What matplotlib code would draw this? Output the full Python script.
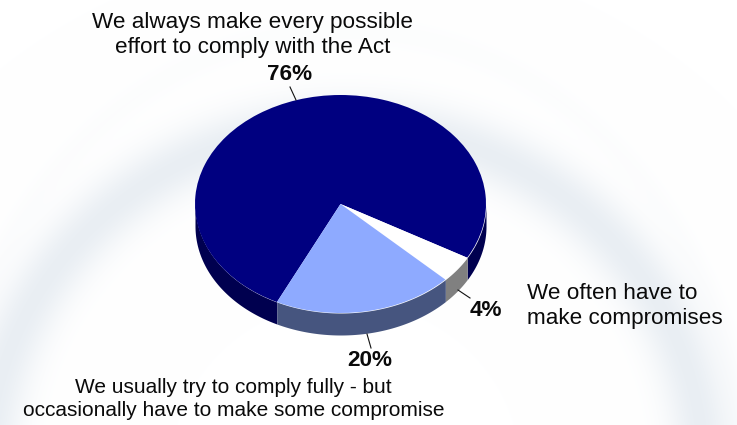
import numpy as np
import matplotlib
matplotlib.use("Agg")
import matplotlib.pyplot as plt
from matplotlib.transforms import Affine2D

categories = ["We always make every possible\neffort to comply with the Act",
              "We often have to\nmake compromises",
              "We usually try to comply fully - but\noccasionally have to make some compromise"]
values = [76, 4, 20]
pct_labels = ["76%", "4%", "20%"]
top_colors = ["#000080", "#ffffff", "#8eaaff"]
side_colors = ["#00004f", "#808080", "#46557f"]

W, H = 737, 425
cx, cy, rx, ry, depth = 340.5, 204.0, 145.5, 109.0, 22.0
START = 244.1

plt.rcParams['font.family'] = ['Liberation Sans', 'DejaVu Sans']
fig = plt.figure(figsize=(W / 100, H / 100), dpi=100)
ax = fig.add_axes([0, 0, 1, 1])

# faint background rings
yy, xx = np.mgrid[0:H, 0:W]
def ring(x0, y0, a, b, width, strength):
    d = (np.hypot((xx - x0) / a, (yy - y0) / b) - 1) * min(a, b)
    return strength * np.exp(-(d / width) ** 2)
shade = ring(345, 470, 358, 345, 30, 1.0) + ring(345, 470, 395, 440, 14, 0.12)
rgb = np.stack([1 - shade * 0.085, 1 - shade * 0.065, 1 - shade * 0.045], axis=-1)

wedges, _ = ax.pie(values, startangle=START, counterclock=False, colors=top_colors, radius=1,
                   wedgeprops=dict(linewidth=0))
for w in wedges:
    w.set_zorder(3)
ax.set_aspect('auto')
ax.set_xlim(-cx / rx, (W - cx) / rx)
ax.set_ylim(-(H - cy) / ry, cy / ry)
ax.set_axis_off()
ax.imshow(rgb, extent=[-cx / rx, (W - cx) / rx, -(H - cy) / ry, cy / ry], aspect='auto', zorder=0,
          interpolation='bilinear')

# side wall
d = depth / ry
edges = START - np.cumsum([0] + values) * 3.6
for i, c in enumerate(side_colors):
    hi, lo = edges[i], edges[i + 1]
    for k in (0, -360):
        a0, a1 = max(lo + k, -180), min(hi + k, 0)
        if a1 > a0:
            t = np.radians(np.linspace(a0, a1, 120))
            ax.fill_between(np.cos(t), np.sin(t) - d, np.sin(t), color=c, linewidth=0, zorder=2)

px = Affine2D().scale(1, -1).translate(0, H)
def txt(x, y, s, ha='center', multialignment='center', fs=16.2, ls=1.19, **kw):
    ax.text(x, y, s, transform=px, ha=ha, va='center', ma=multialignment, color='#0a0a0a', fontsize=fs,
            linespacing=ls, zorder=5, **kw)

txt(253, 35, categories[0])
txt(527, 306, categories[1], ha='left', multialignment='left')
txt(233.5, 399, categories[2], fs=15, ls=1.27)
txt(290, 75, pct_labels[0], fontweight='bold')
txt(486, 310, pct_labels[1], fontweight='bold')
txt(370, 361, pct_labels[2], fontweight='bold')

for (x0, y0, x1, y1) in [(290, 87, 296, 100), (458, 290, 470, 298), (367, 334, 371, 348)]:
    ax.plot([x0, x1], [y0, y1], transform=px, color='#111111', lw=0.8, zorder=4)

fig.savefig("out.png", dpi=100)
